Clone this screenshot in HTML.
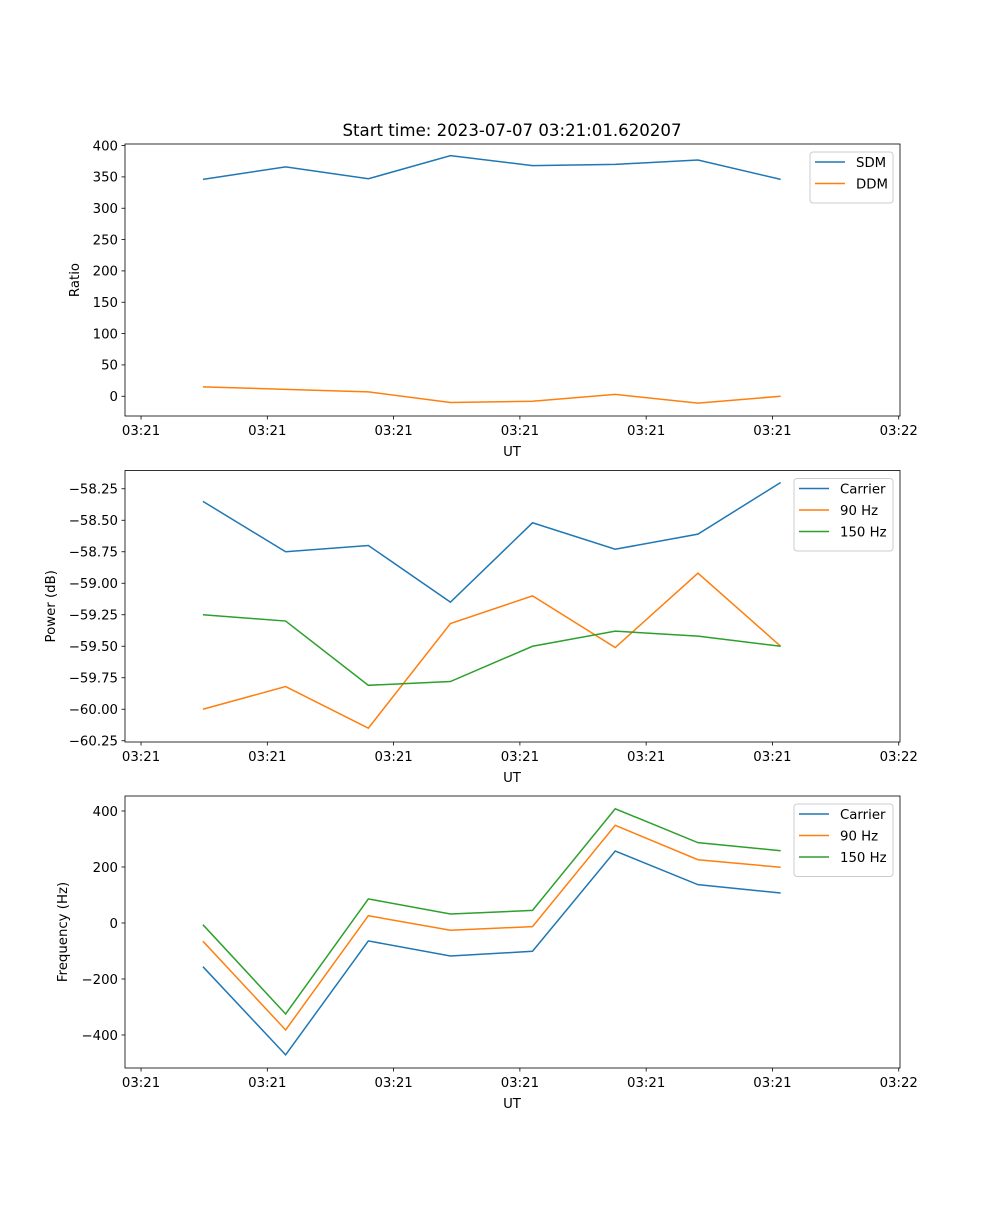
<!DOCTYPE html>
<html><head><meta charset="utf-8"><style>
body{margin:0;background:#fff;}
svg text{font-family:"DejaVu Sans","Liberation Sans",sans-serif;fill:#000;}
</style></head><body>
<svg id="fig" width="1000" height="1200" xmlns="http://www.w3.org/2000/svg"></svg>
<script>
const times=[4.9,11.45,18.0,24.5,31.0,37.55,44.1,50.65];
const tickTimes=[0,10,20,30,40,50,60];
const tickLabels=["03:21","03:21","03:21","03:21","03:21","03:21","03:22"];
const sdm=[346,366,347,384,368,370,377,346];
const ddm=[15,11,7,-10,-8,3,-11,0];
const pwrCarrier=[-58.35,-58.75,-58.70,-59.15,-58.52,-58.73,-58.61,-58.20];
const pwr90=[-60.00,-59.82,-60.15,-59.32,-59.10,-59.51,-58.92,-59.50];
const pwr150=[-59.25,-59.30,-59.81,-59.78,-59.50,-59.38,-59.42,-59.50];
const frqCarrier=[-156,-471,-64,-118,-101,257,137,107];
const frq90=[-65,-382,26,-26,-13,349,226,199];
const frq150=[-6,-325,86,32,45,408,287,258];
const ticks1=[0,50,100,150,200,250,300,350,400];
const ticks2=[-60.25,-60.00,-59.75,-59.50,-59.25,-59.00,-58.75,-58.50,-58.25];
const ticks3=[-400,-200,0,200,400];

const NS="http://www.w3.org/2000/svg";
const svg=document.getElementById('fig');
function mk(tag,attrs,parent){const e=document.createElementNS(NS,tag);for(const k in attrs)e.setAttribute(k,attrs[k]);(parent||svg).appendChild(e);return e;}
const L=125,R=900;
const xMin=-1.27,xMax=60.1;
function xs(t){return L+(t-xMin)/(xMax-xMin)*(R-L);}
const C=['#1f77b4','#ff7f0e','#2ca02c'];
const FS=13.3;

function panel(name,top,bot,yMin,yMax,ticks,fmt,ylabel,ylabelX,series,names,legend){
  const g=mk('g',{});
  
  
  const ys=v=>bot-(v-yMin)/(yMax-yMin)*(bot-top);
  ticks.forEach(v=>{
    const y=ys(v);
    const tk=mk('line',{x1:L-3.5,x2:L,y1:y,y2:y,stroke:'#000','stroke-width':0.8},g);
    
    
    const t=mk('text',{x:L-7,y:y+4.8,'text-anchor':'end','font-size':FS},g);
    
    
    t.textContent=fmt(v);
  });
  tickTimes.forEach((tt,i)=>{
    const x=xs(tt);
    const tk=mk('line',{x1:x,x2:x,y1:bot,y2:bot+3.5,stroke:'#000','stroke-width':0.8},g);
    
    
    const t=mk('text',{x:x,y:bot+19,'text-anchor':'middle','font-size':FS},g);
    
    
    t.textContent=tickLabels[i];
  });
  series.forEach((s,si)=>{
    const p=mk('polyline',{points:s.map((v,i)=>xs(times[i])+','+ys(v)).join(' '),fill:'none',stroke:C[si],'stroke-width':1.5},g);
    
    
  });
  const fr=mk('rect',{x:L,y:top,width:R-L,height:bot-top,fill:'none',stroke:'#000','stroke-width':0.8},g);
  
  
  const xl=mk('text',{x:512,y:bot+40,'text-anchor':'middle','font-size':FS},g);
  
  
  xl.textContent='UT';
  const yl=mk('text',{x:ylabelX,y:(top+bot)/2,'text-anchor':'middle','font-size':FS,transform:`rotate(-90 ${ylabelX} ${(top+bot)/2})`},g);
  
  
  yl.textContent=ylabel;
  const lg=mk('g',{},g);
  
  
  const lb=mk('rect',{x:legend.x,y:top+8,width:legend.w,height:names.length*21.5+8,rx:3,fill:'#fff','fill-opacity':0.8,stroke:'#ccc','stroke-width':1},lg);
  
  
  names.forEach((n,i)=>{
    const y=top+18+i*21.5;
    const ln=mk('line',{x1:legend.x+5,x2:legend.x+35,y1:y,y2:y,stroke:C[i],'stroke-width':1.5},lg);
    
    
    const t=mk('text',{x:legend.x+46,y:y+5,'font-size':FS},lg);
    
    
    t.textContent=n;
  });
}
const title=mk('text',{x:512,y:136,'text-anchor':'middle','font-size':16.6});


title.textContent='Start time: 2023-07-07 03:21:01.620207';

const m='\u2212';
panel('ratio-panel',144,416,-31.5,402.5,ticks1,v=>v<0?m+(-v):String(v),'Ratio',79,[sdm,ddm],['SDM','DDM'],{x:810,w:83});
panel('power-panel',470.5,742,-60.26,-58.105,ticks2,v=>m+(-v).toFixed(2),'Power (dB)',55,[pwrCarrier,pwr90,pwr150],['Carrier','90 Hz','150 Hz'],{x:794,w:99});
panel('frequency-panel',796,1068,-517.9,453.6,ticks3,v=>v<0?m+(-v):String(v),'Frequency (Hz)',67,[frqCarrier,frq90,frq150],['Carrier','90 Hz','150 Hz'],{x:794,w:99});
</script>
</body></html>
